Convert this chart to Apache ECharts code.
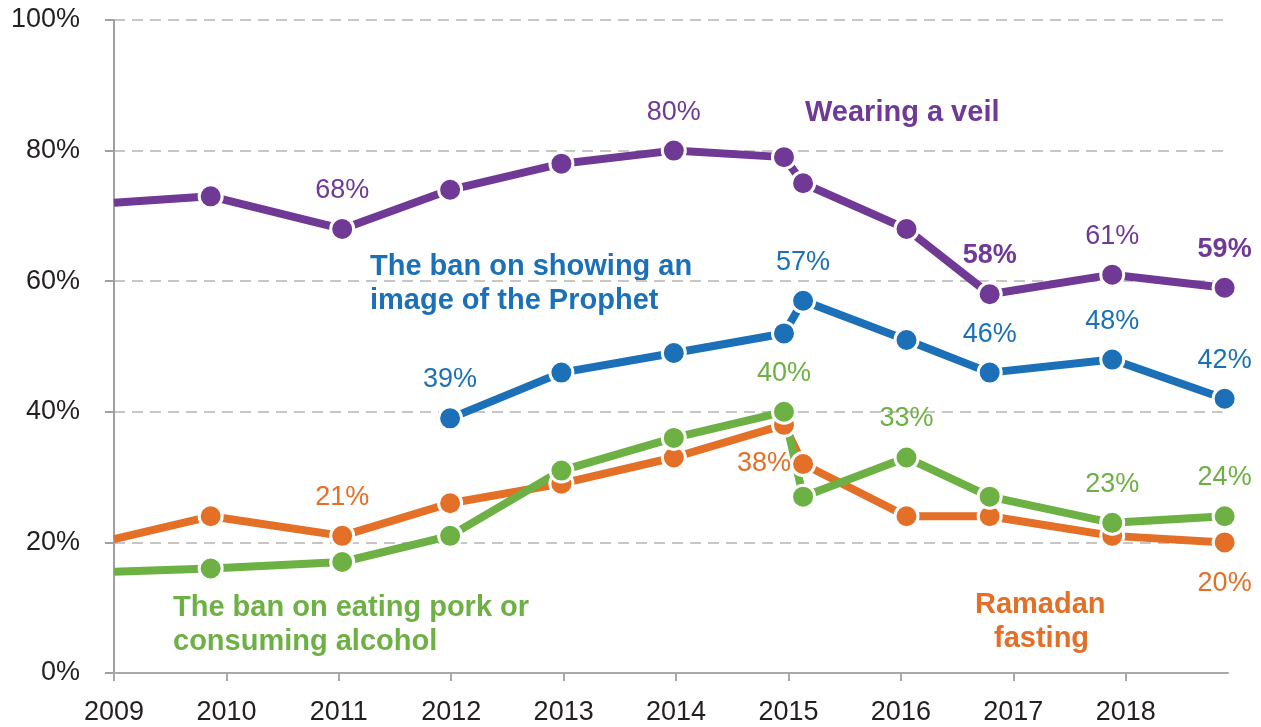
<!DOCTYPE html>
<html>
<head>
<meta charset="utf-8">
<script src="https://cdn.jsdelivr.net/npm/echarts@6/dist/echarts.min.js"></script>
<style>
  html, body { margin: 0; padding: 0; background: #fff; }
  #chart { width: 1261px; height: 727px; }
</style>
</head>
<body>
<div id="chart"></div>
<script>
  // survey years (points sit slightly off the year ticks in the original)
  const years = [2009.0, 2009.86, 2011.03, 2011.99, 2012.98, 2013.98, 2014.96, 2015.13, 2016.05, 2016.79, 2017.88, 2018.88]
  const yearTicks = [2009, 2010, 2011, 2012, 2013, 2014, 2015, 2016, 2017, 2018]

  const veil = [72, 73, 68, 74, 78, 80, 79, 75, 68, 58, 61, 59]
  const prophet = [null, null, null, 39, 46, 49, 52, 57, 51, 46, 48, 42]
  const ramadan = [20.5, 24, 21, 26, 29, 33, 38, 32, 24, 24, 21, 20]
  const pork = [15.5, 16, 17, 21, 31, 36, 40, 27, 33, 27, 23, 24]

  // which points carry a value label
  const veilLabels = [2, 5, 9, 10, 11]
  const veilBold = [9, 11]
  const prophetLabels = [3, 7, 9, 10, 11]
  const ramadanLabels = [2, 6, 11]
  const porkLabels = [6, 8, 10, 11]

  const FONT = '"Liberation Sans", Arial, sans-serif'
  const colors = {
    veil: '#703996',
    prophet: '#1c70b8',
    ramadan: '#e46f27',
    pork: '#6db043'
  }

  function buildData(values, labelIdx, color, opts) {
    opts = opts || {}
    let out = []
    values.forEach((v, i) => {
      if (v === null) return
      let item = { value: [years[i], v] }
      if (i === 0) item.symbol = 'none'   // line enters from the axis
      if (labelIdx.indexOf(i) > -1) {
        let bold = (opts.bold || []).indexOf(i) > -1
        let lbl = {
          show: true,
          position: 'top',
          distance: 12,
          color: color,
          fontFamily: FONT,
          fontSize: 27,
          fontWeight: bold ? 'bold' : 'normal',
          formatter: p => p.value[1] + '%'
        }
        if (opts.special && opts.special[i]) Object.assign(lbl, opts.special[i])
        item.label = lbl
      }
      out.push(item)
    })
    return out
  }

  function lineSeries(name, data, color) {
    return {
      name: name,
      type: 'line',
      data: data,
      symbol: 'circle',
      symbolSize: 23,
      showAllSymbol: true,
      lineStyle: { color: color, width: 8 },
      itemStyle: { color: color, borderColor: '#fff', borderWidth: 3 },
      label: { show: false },
      emphasis: { disabled: true },
      connectNulls: false
    }
  }

  function note(text, left, top, color) {
    return {
      type: 'text', left: left, top: top,
      style: { text: text, fill: color, font: 'bold 29px ' + FONT, lineHeight: 34 }
    }
  }

  const chart = echarts.init(document.getElementById('chart'))
  const option = {
    animation: false,
    grid: { left: 114, right: 33, top: 20, bottom: 54, containLabel: false },
    xAxis: {
      type: 'value',
      min: 2009,
      max: 2018.91,
      interval: 1,
      axisLine: { show: true, lineStyle: { color: '#a7a9ac', width: 2 } },
      axisTick: { show: true, length: 8, customValues: yearTicks, lineStyle: { color: '#a7a9ac', width: 2 } },
      axisLabel: {
        customValues: yearTicks,
        formatter: v => String(v),
        margin: 26,
        color: '#231f20',
        fontFamily: FONT,
        fontSize: 27
      },
      splitLine: { show: false }
    },
    yAxis: {
      type: 'value',
      min: 0,
      max: 100,
      interval: 20,
      axisLine: { show: true, lineStyle: { color: '#a0a0a0', width: 2 } },
      axisTick: { show: true, length: 9, lineStyle: { color: '#a0a0a0', width: 2 } },
      axisLabel: {
        formatter: '{value}%',
        margin: 34,
        color: '#231f20',
        fontFamily: FONT,
        fontSize: 27
      },
      splitLine: { show: true, lineStyle: { color: '#c6c6c6', width: 2, type: [11, 7] } }
    },
    series: [
      lineSeries('Wearing a veil', buildData(veil, veilLabels, colors.veil, { bold: veilBold }), colors.veil),
      lineSeries('The ban on showing an image of the Prophet', buildData(prophet, prophetLabels, colors.prophet), colors.prophet),
      lineSeries('Ramadan fasting', buildData(ramadan, ramadanLabels, colors.ramadan, {
        special: {
          6: { position: 'bottom', distance: 12, offset: [-20, 0] },
          11: { position: 'bottom', distance: 15 }
        }
      }), colors.ramadan),
      lineSeries('The ban on eating pork or consuming alcohol', buildData(pork, porkLabels, colors.pork), colors.pork)
    ],
    graphic: [
      note('Wearing a veil', 805, 96, colors.veil),
      note('The ban on showing an\nimage of the Prophet', 370, 250, colors.prophet),
      note('The ban on eating pork or\nconsuming alcohol', 173, 591, colors.pork),
      note('Ramadan', 975, 588, colors.ramadan),
      note('fasting', 994, 622, colors.ramadan)
    ]
  }
  chart.setOption(option)
</script>
</body>
</html>
